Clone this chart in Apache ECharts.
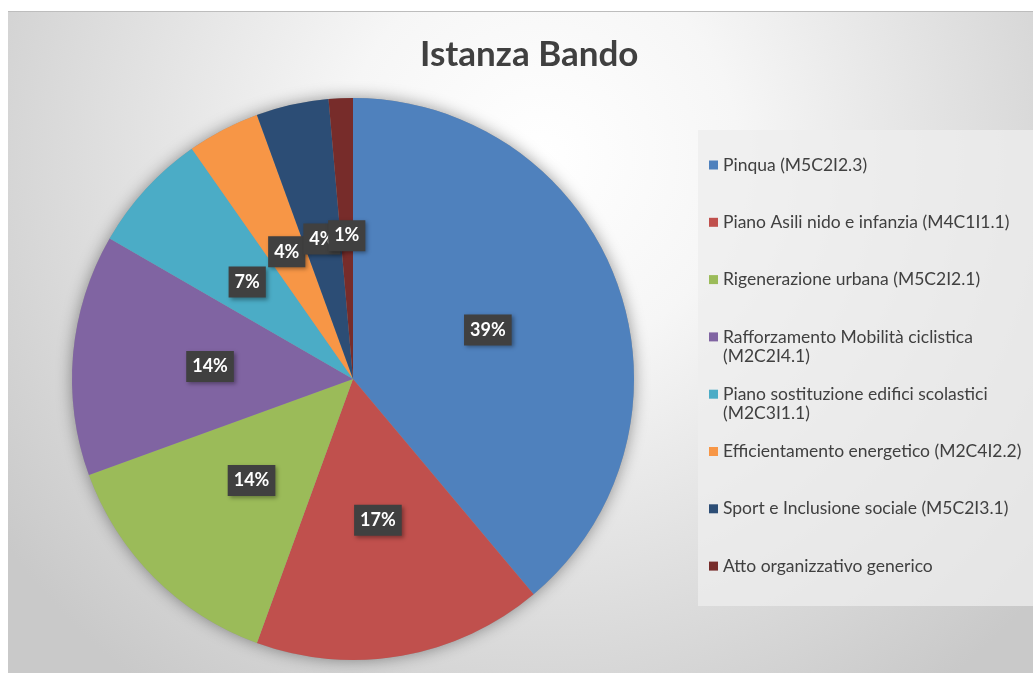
<!DOCTYPE html>
<html>
<head>
<meta charset="utf-8">
<script src="https://cdn.jsdelivr.net/npm/echarts@6/dist/echarts.min.js"></script>
<style>
  html, body { margin: 0; padding: 0; background: #fff; }
  #panel {
    position: absolute; left: 8px; top: 11px;
    width: 1025px; height: 662px;
    border-top: 1px solid #bdbdbd;
  }
  #chart { width: 1025px; height: 661px; }
</style>
</head>
<body>
<div id="panel"><div id="chart"></div></div>
<script>
// dati del grafico
const titleText = "Istanza Bando";
const categories = [
  "Pinqua (M5C2I2.3)",
  "Piano Asili nido e infanzia (M4C1I1.1)",
  "Rigenerazione urbana (M5C2I2.1)",
  "Rafforzamento Mobilità ciclistica (M2C2I4.1)",
  "Piano sostituzione edifici scolastici (M2C3I1.1)",
  "Efficientamento energetico (M2C4I2.2)",
  "Sport e Inclusione sociale (M5C2I3.1)",
  "Atto organizzativo generico",
];
const counts = [28, 12, 10, 10, 5, 3, 3, 1];
const colors = ["#4F81BD", "#C0504D", "#9BBB59", "#8064A2", "#4BACC6", "#F79646", "#2C4D75", "#772C2A"];
// voci della legenda che vanno a capo
const wrapped = [3, 4];

const chart = echarts.init(document.getElementById("chart"));

const center = [345, 367];
const radius = 281;
const font = "Lato, 'Noto Sans', sans-serif";

// una legenda per voce, così le righe restano alla stessa distanza
const legendFirst = 153;
const legendStep = 57.3;
const lineH = 19;
const legends = categories.map((name, i) => {
  const twoLines = wrapped.includes(i);
  return {
    data: [name],
    left: 701,
    top: legendFirst + i * legendStep - (twoLines ? lineH * 1.5 : lineH / 2),
    orient: "vertical",
    padding: 0,
    itemWidth: 9,
    itemHeight: 9,
    icon: "rect",
    selectedMode: false,
    // riga vuota in testa: la prima riga resta allineata al quadratino
    formatter: (n) => (twoLines ? "\n" + n.replace(" (", "\n(") : n),
    textStyle: {
      color: "#404040",
      fontSize: 17.5,
      fontFamily: font,
      lineHeight: lineH,
    },
  };
});

chart.setOption({
  backgroundColor: {
    type: "radial",
    x: 0.52,
    y: 0.22,
    r: 1.0,
    colorStops: [
      { offset: 0, color: "#ffffff" },
      { offset: 0.3, color: "#f6f6f6" },
      { offset: 1, color: "#c9c9c9" },
    ],
  },
  title: {
    text: titleText,
    left: 407,
    top: 20,
    textStyle: { color: "#404040", fontSize: 35, fontWeight: "bold", fontFamily: font },
  },
  legend: legends,
  graphic: [
    {
      type: "rect",
      left: 690,
      top: 118,
      z: -1,
      shape: { width: 335, height: 476 },
      style: { fill: "rgba(238,238,238,0.75)" },
    },
  ],
  color: colors,
  series: [
    // disco sotto la torta solo per l'ombra
    {
      type: "pie",
      silent: true,
      center: center,
      radius: radius,
      z: 1,
      label: { show: false },
      labelLine: { show: false },
      itemStyle: { color: "#999", shadowBlur: 16, shadowColor: "rgba(0,0,0,0.4)" },
      data: [{ value: 1, name: "_shadow" }],
    },
    {
      type: "pie",
      center: center,
      radius: radius,
      z: 2,
      startAngle: 90,
      clockwise: true,
      percentPrecision: 0,
      avoidLabelOverlap: false,
      labelLayout: { hideOverlap: false },
      emphasis: { scale: false },
      itemStyle: { borderWidth: 0 },
      label: {
        show: true,
        position: "inside",
        formatter: "{d}%",
        color: "#fff",
        fontSize: 18,
        lineHeight: 18,
        fontWeight: "bold",
        fontFamily: font,
        backgroundColor: "#404040",
        padding: [7, 6, 6, 6],
        shadowBlur: 4,
        shadowOffsetX: 2,
        shadowOffsetY: 2,
        shadowColor: "rgba(0,0,0,0.35)",
      },
      labelLine: { show: false },
      data: categories.map((name, i) => ({ name: name, value: counts[i] })),
    },
  ],
});
</script>
</body>
</html>
